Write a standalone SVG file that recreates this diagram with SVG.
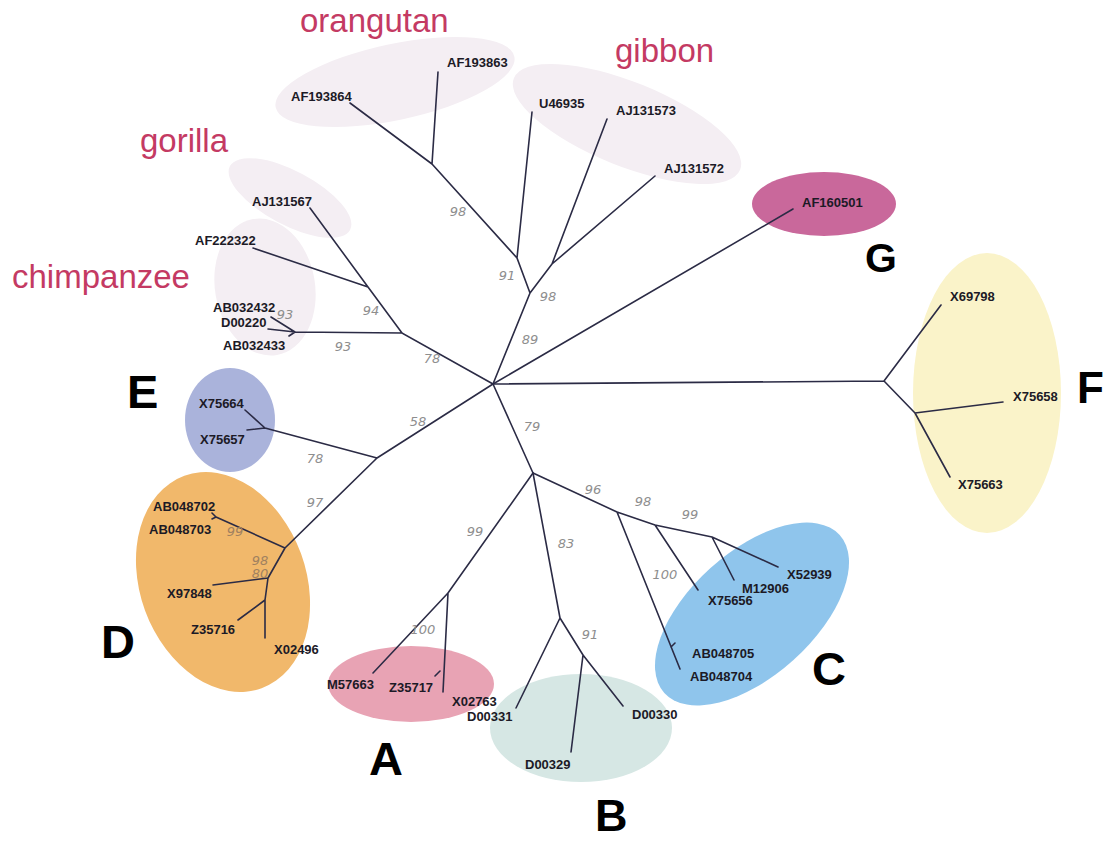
<svg xmlns="http://www.w3.org/2000/svg" width="1106" height="841" viewBox="0 0 1106 841">
<style>
.leaf{font-family:"Liberation Sans",Arial,sans-serif;font-weight:bold;font-size:13px;fill:#1c1a26}
.sp{font-family:"Liberation Sans",Arial,sans-serif;font-size:33px;fill:#c43a63}
.big{font-family:"Liberation Sans",Arial,sans-serif;font-weight:bold;font-size:47px;fill:#000}
.bs{font-family:"DejaVu Sans",sans-serif;font-style:italic;font-size:13px;fill:#8e8e8e;text-anchor:middle}
.br{fill:none;stroke:#2b2b45;stroke-width:1.6;stroke-linecap:round}
.ape{fill:#f4eef3}
</style>
<rect width="1106" height="841" fill="#fff"/>

<g id="orangutan">
<ellipse class="ape" cx="395" cy="82" rx="122" ry="38" transform="rotate(-12 395 82)"/>
<text class="sp" x="300" y="32">orangutan</text>
<text class="leaf" x="291" y="101">AF193864</text>
<text class="leaf" x="447" y="67">AF193863</text>
</g>
<g id="gibbon">
<ellipse class="ape" cx="627" cy="124" rx="122" ry="42" transform="rotate(22 627 124)"/>
<text class="sp" x="615" y="62">gibbon</text>
<text class="leaf" x="539" y="108">U46935</text>
<text class="leaf" x="616" y="115">AJ131573</text>
<text class="leaf" x="664" y="173">AJ131572</text>
</g>
<g id="gorilla">
<ellipse class="ape" cx="290" cy="198" rx="68" ry="27" transform="rotate(28 290 198)"/>
<text class="sp" x="140" y="152">gorilla</text>
<text class="leaf" x="252" y="206">AJ131567</text>
</g>
<g id="chimpanzee">
<ellipse class="ape" cx="265" cy="287" rx="50" ry="69" transform="rotate(-10 265 287)"/>
<text class="sp" x="12" y="288">chimpanzee</text>
<text class="leaf" x="195" y="245">AF222322</text>
<text class="leaf" x="213" y="312">AB032432</text>
<text class="leaf" x="221" y="327">D00220</text>
<text class="leaf" x="223" y="350">AB032433</text>
</g>
<g id="G">
<ellipse cx="824" cy="204" rx="72" ry="32" fill="#c9689b"/>
<text class="leaf" x="802" y="207">AF160501</text>
<text class="big" x="865" y="272" style="font-size:41px">G</text>
</g>
<g id="F">
<ellipse cx="987" cy="393" rx="74" ry="140" fill="#faf3c9"/>
<text class="leaf" x="950" y="301">X69798</text>
<text class="leaf" x="1013" y="401">X75658</text>
<text class="leaf" x="958" y="489">X75663</text>
<text class="big" x="1077" y="403" style="font-size:44px">F</text>
</g>
<g id="E">
<ellipse cx="230" cy="420" rx="45" ry="52" fill="#aab3db"/>
<text class="leaf" x="199" y="408">X75664</text>
<text class="leaf" x="200" y="444">X75657</text>
<text class="big" x="127" y="408">E</text>
</g>
<g id="D">
<ellipse cx="223" cy="582" rx="83" ry="113" transform="rotate(-20 223 582)" fill="#f1b86b"/>
<text class="leaf" x="153" y="511">AB048702</text>
<text class="leaf" x="149" y="534">AB048703</text>
<text class="leaf" x="167" y="598">X97848</text>
<text class="leaf" x="191" y="634">Z35716</text>
<text class="leaf" x="274" y="654">X02496</text>
<text class="big" x="101" y="658">D</text>
</g>
<g id="A">
<ellipse cx="411" cy="684" rx="83" ry="38" fill="#e8a3b4"/>
<text class="leaf" x="327" y="689">M57663</text>
<text class="leaf" x="389" y="692">Z35717</text>
<text class="leaf" x="452" y="706">X02763</text>
<text class="big" x="369" y="775">A</text>
</g>
<g id="B">
<ellipse cx="581" cy="728" rx="91" ry="54" fill="#d6e7e4"/>
<text class="leaf" x="467" y="721">D00331</text>
<text class="leaf" x="525" y="769">D00329</text>
<text class="leaf" x="632" y="719">D00330</text>
<text class="big" x="595" y="831" style="font-size:45px">B</text>
</g>
<g id="C">
<ellipse cx="752" cy="614" rx="118" ry="62" transform="rotate(-42 752 614)" fill="#8fc5ec"/>
<text class="leaf" x="787" y="579">X52939</text>
<text class="leaf" x="742" y="593">M12906</text>
<text class="leaf" x="708" y="605">X75656</text>
<text class="leaf" x="692" y="658">AB048705</text>
<text class="leaf" x="690" y="681">AB048704</text>
<text class="big" x="812" y="685">C</text>
</g>

<g id="connectors" class="br">
<path d="M493,384 L884,381 M884,381 L941,305 M884,381 L915,413 M915,413 L1003,402 M915,413 L950,477"/>
<path d="M493,384 L793,209"/>
<path d="M493,384 L530,293 L517,258 L432,164 M432,164 L350,103 M432,164 L438,72 M517,258 L532,112 M530,293 L552,264 M552,264 L607,119 M552,264 L655,176"/>
<path d="M493,384 L402,333 L295,332 M295,332 L271,317 M295,332 L268,329 M295,332 L289,336 M402,333 L368,287 M368,287 L310,208 M368,287 L253,248"/>
<path d="M493,384 L377,458 M377,458 L265,428 M265,428 L245,410 M265,428 L247,430 M377,458 L285,548 M285,548 L216,517 M216,517 L212,513 M216,517 L212,519 M285,548 L268,578 M268,578 L213,585 M268,578 L265,600 M265,600 L238,620 M265,600 L265,638"/>
<path d="M493,384 L533,473 M533,473 L448,593 M448,593 L373,673 M448,593 L443,692 M440,671 L435,676"/>
<path d="M533,473 L560,618 M560,618 L516,708 M560,618 L583,655 M583,655 L571,752 M583,655 L623,706"/>
<path d="M533,473 L617,512 M617,512 L680,669 M675,643 L671,647 M617,512 L655,525 M655,525 L698,590 M655,525 L712,537 M712,537 L734,580 M712,537 L778,567"/>
</g>

<g id="bootstrap">
<text class="bs" x="458" y="216">98</text>
<text class="bs" x="507" y="280">91</text>
<text class="bs" x="548" y="301">98</text>
<text class="bs" x="530" y="344">89</text>
<text class="bs" x="371" y="315">94</text>
<text class="bs" x="285" y="319">93</text>
<text class="bs" x="343" y="351">93</text>
<text class="bs" x="432" y="363">78</text>
<text class="bs" x="418" y="426">58</text>
<text class="bs" x="532" y="431">79</text>
<text class="bs" x="315" y="463">78</text>
<text class="bs" x="315" y="507">97</text>
<text class="bs" x="235" y="536" style="fill:#a08160">99</text>
<text class="bs" x="260" y="565" style="fill:#a08160">98</text>
<text class="bs" x="260" y="578" style="fill:#a08160">80</text>
<text class="bs" x="475" y="536">99</text>
<text class="bs" x="423" y="634">100</text>
<text class="bs" x="566" y="548">83</text>
<text class="bs" x="590" y="639">91</text>
<text class="bs" x="593" y="494">96</text>
<text class="bs" x="643" y="506">98</text>
<text class="bs" x="665" y="579">100</text>
<text class="bs" x="690" y="519">99</text>
</g>
</svg>
